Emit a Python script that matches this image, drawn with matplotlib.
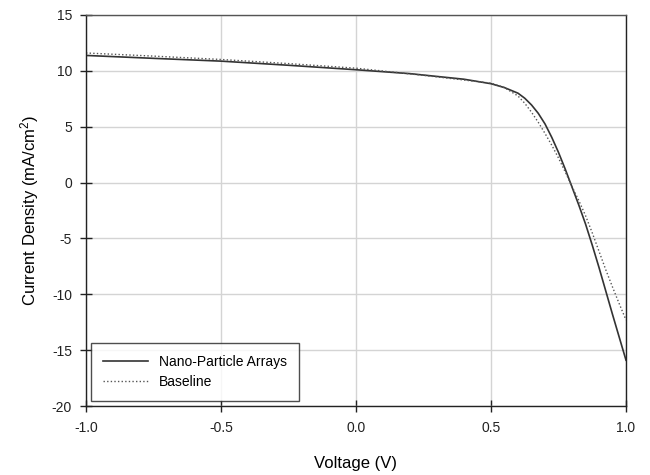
import matplotlib
matplotlib.use("Agg")
import matplotlib.pyplot as plt

plt.rcParams["font.family"] = ["Liberation Sans", "DejaVu Sans"]
plt.rcParams["axes.unicode_minus"] = False
plt.rcParams["mathtext.default"] = "regular"

# J-V curves: voltage (V) vs current density (mA/cm^2)
voltage_np = [-1.0, -0.75, -0.5, -0.25, 0.0, 0.2, 0.4, 0.5, 0.55, 0.6, 0.625,
              0.65, 0.675, 0.7, 0.725, 0.75, 0.775, 0.8, 0.825, 0.85, 0.875,
              0.9, 0.925, 0.95, 0.975, 1.0]
current_np = [11.38, 11.12, 10.87, 10.5, 10.1, 9.75, 9.25, 8.85, 8.5, 8.0, 7.55,
              6.95, 6.2, 5.25, 4.05, 2.7, 1.2, -0.4, -2.0, -3.7, -5.6,
              -7.6, -9.7, -11.8, -13.85, -15.9]

voltage_base = [-1.0, -0.75, -0.5, -0.25, 0.0, 0.25, 0.5, 0.55, 0.6, 0.625, 0.65,
                0.675, 0.7, 0.725, 0.75, 0.775, 0.8, 0.825, 0.85, 0.875, 0.9,
                0.925, 0.95, 0.975, 1.0]
current_base = [11.6, 11.32, 11.02, 10.65, 10.24, 9.6, 8.9, 8.5, 7.75, 7.1, 6.3,
                5.4, 4.4, 3.35, 2.2, 0.95, -0.35, -1.6, -2.95, -4.5, -6.15,
                -7.8, -9.35, -10.85, -12.3]

x_ticks = [-1.0, -0.5, 0.0, 0.5, 1.0]
y_ticks = [-20, -15, -10, -5, 0, 5, 10, 15]

fig = plt.figure(figsize=(6.5, 4.75), dpi=100)
ax = fig.add_axes([86 / 650, 1 - 406 / 475, 540 / 650, 391 / 475])

ax.plot(voltage_np, current_np, color="#333333", lw=1.2, label="Nano-Particle Arrays")
ax.plot(voltage_base, current_base, color="#555555", lw=1.0,
        linestyle=(0, (1, 1.6)), label="Baseline")

ax.set_xlim(-1.0, 1.0)
ax.set_ylim(-20, 15)
ax.set_xticks(x_ticks)
ax.set_xticklabels([f"{v:.1f}" for v in x_ticks])
ax.set_yticks(y_ticks)
ax.set_yticklabels([str(v) for v in y_ticks])

ax.grid(True, color="#d4d4d4", lw=1.0)
ax.set_axisbelow(True)
for side, sp in ax.spines.items():
    sp.set_color("#222222")
    sp.set_linewidth(1.0)
ax.spines["top"].set_color("#555555")

ax.tick_params(direction="inout", length=8, width=1, colors="#222222",
               labelsize=10, pad=7, top=False, right=False)
ax.tick_params(axis="y", pad=6)

ax.set_xlabel("Voltage (V)", fontsize=12, labelpad=15)
ax.set_ylabel("Current Density (mA/cm$^{2}$)", fontsize=12, labelpad=8)

leg = ax.legend(loc="lower left", fontsize=10, frameon=True, fancybox=False,
                handlelength=3.2, borderaxespad=0.35, borderpad=0.9,
                labelspacing=0.4, handletextpad=0.8)
leg.get_frame().set_edgecolor("#222222")
leg.get_frame().set_linewidth(1.0)

fig.savefig("out.png", dpi=100)
